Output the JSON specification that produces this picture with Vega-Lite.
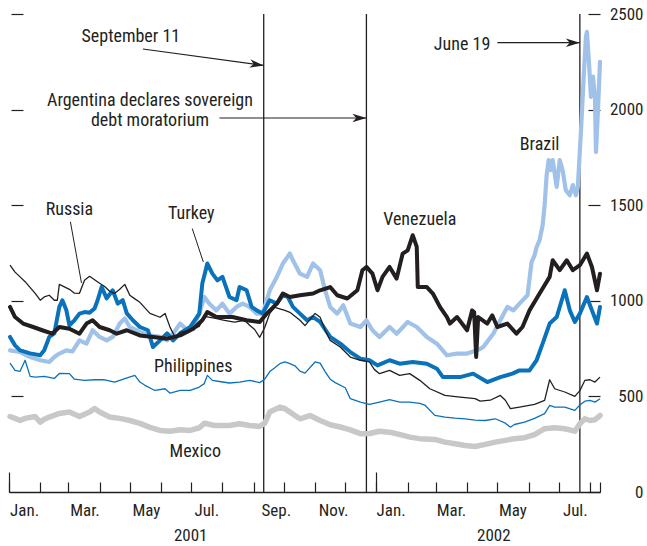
{
  "$schema": "https://vega.github.io/schema/vega-lite/v6.json",
  "width": 591,
  "height": 478,
  "autosize": {"type": "none"},
  "padding": {"left": 9, "top": 14, "right": 47, "bottom": 54},
  "background": "white",
  "config": {
    "view": {"stroke": null},
    "axis": {"labelFont": "Roboto Condensed, DejaVu Sans Condensed, Liberation Sans Narrow, Liberation Sans, sans-serif", "labelFontSize": 17, "labelColor": "#231f20", "tickColor": "#231f20", "domainColor": "#231f20", "grid": false, "title": null, "labelOverlap": false, "labelFlush": false, "labelBound": false}
  },
  "datasets": {
    "events": [{"d": "2001-09-11"}, {"d": "2001-12-22"}, {"d": "2002-07-22"}],
    "spreads": [
      {"c":"Mexico","d":"2001-01-02","v":395},{"c":"Mexico","d":"2001-01-07","v":385},{"c":"Mexico","d":"2001-01-12","v":374},{"c":"Mexico","d":"2001-01-17","v":385},{"c":"Mexico","d":"2001-01-27","v":395},{"c":"Mexico","d":"2001-02-01","v":365},{"c":"Mexico","d":"2001-02-05","v":380},{"c":"Mexico","d":"2001-02-10","v":392},{"c":"Mexico","d":"2001-02-20","v":411},{"c":"Mexico","d":"2001-03-02","v":418},{"c":"Mexico","d":"2001-03-12","v":395},{"c":"Mexico","d":"2001-03-22","v":418},{"c":"Mexico","d":"2001-03-27","v":437},{"c":"Mexico","d":"2001-04-01","v":418},{"c":"Mexico","d":"2001-04-11","v":392},{"c":"Mexico","d":"2001-04-21","v":385},{"c":"Mexico","d":"2001-05-01","v":374},{"c":"Mexico","d":"2001-05-11","v":359},{"c":"Mexico","d":"2001-05-21","v":338},{"c":"Mexico","d":"2001-05-31","v":322},{"c":"Mexico","d":"2001-06-10","v":318},{"c":"Mexico","d":"2001-06-20","v":326},{"c":"Mexico","d":"2001-06-30","v":322},{"c":"Mexico","d":"2001-07-09","v":336},{"c":"Mexico","d":"2001-07-14","v":360},{"c":"Mexico","d":"2001-07-24","v":348},{"c":"Mexico","d":"2001-08-08","v":348},{"c":"Mexico","d":"2001-08-18","v":357},{"c":"Mexico","d":"2001-08-28","v":348},{"c":"Mexico","d":"2001-09-07","v":343},{"c":"Mexico","d":"2001-09-12","v":360},{"c":"Mexico","d":"2001-09-17","v":418},{"c":"Mexico","d":"2001-09-27","v":444},{"c":"Mexico","d":"2001-10-02","v":436},{"c":"Mexico","d":"2001-10-12","v":400},{"c":"Mexico","d":"2001-10-17","v":383},{"c":"Mexico","d":"2001-10-27","v":400},{"c":"Mexico","d":"2001-11-06","v":374},{"c":"Mexico","d":"2001-11-16","v":352},{"c":"Mexico","d":"2001-11-26","v":340},{"c":"Mexico","d":"2001-12-06","v":325},{"c":"Mexico","d":"2001-12-16","v":305},{"c":"Mexico","d":"2001-12-25","v":306},{"c":"Mexico","d":"2002-01-04","v":318},{"c":"Mexico","d":"2002-01-14","v":313},{"c":"Mexico","d":"2002-01-24","v":301},{"c":"Mexico","d":"2002-02-03","v":287},{"c":"Mexico","d":"2002-02-13","v":279},{"c":"Mexico","d":"2002-02-28","v":275},{"c":"Mexico","d":"2002-03-10","v":261},{"c":"Mexico","d":"2002-03-20","v":252},{"c":"Mexico","d":"2002-03-30","v":243},{"c":"Mexico","d":"2002-04-09","v":238},{"c":"Mexico","d":"2002-04-19","v":249},{"c":"Mexico","d":"2002-04-29","v":261},{"c":"Mexico","d":"2002-05-09","v":270},{"c":"Mexico","d":"2002-05-18","v":279},{"c":"Mexico","d":"2002-05-28","v":284},{"c":"Mexico","d":"2002-06-07","v":300},{"c":"Mexico","d":"2002-06-17","v":331},{"c":"Mexico","d":"2002-06-27","v":336},{"c":"Mexico","d":"2002-07-07","v":331},{"c":"Mexico","d":"2002-07-17","v":318},{"c":"Mexico","d":"2002-07-22","v":357},{"c":"Mexico","d":"2002-07-27","v":383},{"c":"Mexico","d":"2002-08-01","v":374},{"c":"Mexico","d":"2002-08-06","v":378},{"c":"Mexico","d":"2002-08-11","v":400},
      {"c":"Philippines","d":"2001-01-02","v":674},{"c":"Philippines","d":"2001-01-07","v":636},{"c":"Philippines","d":"2001-01-12","v":631},{"c":"Philippines","d":"2001-01-17","v":689},{"c":"Philippines","d":"2001-01-22","v":605},{"c":"Philippines","d":"2001-01-27","v":601},{"c":"Philippines","d":"2001-02-05","v":605},{"c":"Philippines","d":"2001-02-15","v":594},{"c":"Philippines","d":"2001-02-20","v":620},{"c":"Philippines","d":"2001-03-02","v":619},{"c":"Philippines","d":"2001-03-07","v":590},{"c":"Philippines","d":"2001-03-17","v":584},{"c":"Philippines","d":"2001-03-27","v":587},{"c":"Philippines","d":"2001-04-06","v":587},{"c":"Philippines","d":"2001-04-16","v":575},{"c":"Philippines","d":"2001-04-26","v":593},{"c":"Philippines","d":"2001-05-06","v":610},{"c":"Philippines","d":"2001-05-11","v":575},{"c":"Philippines","d":"2001-05-16","v":558},{"c":"Philippines","d":"2001-05-26","v":531},{"c":"Philippines","d":"2001-06-05","v":540},{"c":"Philippines","d":"2001-06-10","v":517},{"c":"Philippines","d":"2001-06-20","v":531},{"c":"Philippines","d":"2001-06-30","v":531},{"c":"Philippines","d":"2001-07-09","v":549},{"c":"Philippines","d":"2001-07-14","v":567},{"c":"Philippines","d":"2001-07-17","v":610},{"c":"Philippines","d":"2001-07-22","v":584},{"c":"Philippines","d":"2001-07-29","v":578},{"c":"Philippines","d":"2001-08-08","v":570},{"c":"Philippines","d":"2001-08-18","v":575},{"c":"Philippines","d":"2001-08-28","v":584},{"c":"Philippines","d":"2001-09-07","v":572},{"c":"Philippines","d":"2001-09-12","v":590},{"c":"Philippines","d":"2001-09-17","v":630},{"c":"Philippines","d":"2001-09-22","v":650},{"c":"Philippines","d":"2001-09-27","v":671},{"c":"Philippines","d":"2001-10-02","v":680},{"c":"Philippines","d":"2001-10-07","v":671},{"c":"Philippines","d":"2001-10-12","v":660},{"c":"Philippines","d":"2001-10-17","v":632},{"c":"Philippines","d":"2001-10-22","v":622},{"c":"Philippines","d":"2001-11-01","v":680},{"c":"Philippines","d":"2001-11-06","v":674},{"c":"Philippines","d":"2001-11-11","v":630},{"c":"Philippines","d":"2001-11-16","v":590},{"c":"Philippines","d":"2001-11-21","v":572},{"c":"Philippines","d":"2001-12-01","v":545},{"c":"Philippines","d":"2001-12-06","v":488},{"c":"Philippines","d":"2001-12-16","v":470},{"c":"Philippines","d":"2001-12-25","v":458},{"c":"Philippines","d":"2002-01-04","v":470},{"c":"Philippines","d":"2002-01-14","v":483},{"c":"Philippines","d":"2002-01-24","v":470},{"c":"Philippines","d":"2002-02-03","v":470},{"c":"Philippines","d":"2002-02-13","v":463},{"c":"Philippines","d":"2002-02-18","v":455},{"c":"Philippines","d":"2002-02-28","v":401},{"c":"Philippines","d":"2002-03-10","v":392},{"c":"Philippines","d":"2002-03-20","v":386},{"c":"Philippines","d":"2002-03-30","v":382},{"c":"Philippines","d":"2002-04-09","v":376},{"c":"Philippines","d":"2002-04-19","v":374},{"c":"Philippines","d":"2002-04-29","v":383},{"c":"Philippines","d":"2002-05-09","v":360},{"c":"Philippines","d":"2002-05-14","v":339},{"c":"Philippines","d":"2002-05-18","v":353},{"c":"Philippines","d":"2002-05-28","v":365},{"c":"Philippines","d":"2002-06-07","v":385},{"c":"Philippines","d":"2002-06-17","v":410},{"c":"Philippines","d":"2002-06-22","v":453},{"c":"Philippines","d":"2002-06-27","v":444},{"c":"Philippines","d":"2002-07-07","v":444},{"c":"Philippines","d":"2002-07-17","v":427},{"c":"Philippines","d":"2002-07-22","v":455},{"c":"Philippines","d":"2002-07-27","v":475},{"c":"Philippines","d":"2002-08-01","v":479},{"c":"Philippines","d":"2002-08-06","v":470},{"c":"Philippines","d":"2002-08-11","v":488},
      {"c":"Russia","d":"2001-01-02","v":1186},{"c":"Russia","d":"2001-01-07","v":1150},{"c":"Russia","d":"2001-01-12","v":1125},{"c":"Russia","d":"2001-01-17","v":1100},{"c":"Russia","d":"2001-01-27","v":1039},{"c":"Russia","d":"2001-02-01","v":1003},{"c":"Russia","d":"2001-02-05","v":1020},{"c":"Russia","d":"2001-02-10","v":1029},{"c":"Russia","d":"2001-02-15","v":1003},{"c":"Russia","d":"2001-02-18","v":1003},{"c":"Russia","d":"2001-02-20","v":1086},{"c":"Russia","d":"2001-03-02","v":1060},{"c":"Russia","d":"2001-03-07","v":1040},{"c":"Russia","d":"2001-03-12","v":1039},{"c":"Russia","d":"2001-03-17","v":1107},{"c":"Russia","d":"2001-03-22","v":1128},{"c":"Russia","d":"2001-04-01","v":1092},{"c":"Russia","d":"2001-04-06","v":1075},{"c":"Russia","d":"2001-04-11","v":1050},{"c":"Russia","d":"2001-04-16","v":1039},{"c":"Russia","d":"2001-04-21","v":1060},{"c":"Russia","d":"2001-04-26","v":1086},{"c":"Russia","d":"2001-05-01","v":1029},{"c":"Russia","d":"2001-05-06","v":1010},{"c":"Russia","d":"2001-05-11","v":992},{"c":"Russia","d":"2001-05-21","v":934},{"c":"Russia","d":"2001-05-31","v":914},{"c":"Russia","d":"2001-06-05","v":934},{"c":"Russia","d":"2001-06-10","v":861},{"c":"Russia","d":"2001-06-15","v":809},{"c":"Russia","d":"2001-06-20","v":835},{"c":"Russia","d":"2001-06-30","v":846},{"c":"Russia","d":"2001-07-09","v":866},{"c":"Russia","d":"2001-07-14","v":919},{"c":"Russia","d":"2001-07-24","v":909},{"c":"Russia","d":"2001-08-03","v":898},{"c":"Russia","d":"2001-08-13","v":888},{"c":"Russia","d":"2001-08-23","v":898},{"c":"Russia","d":"2001-08-28","v":872},{"c":"Russia","d":"2001-09-02","v":850},{"c":"Russia","d":"2001-09-07","v":809},{"c":"Russia","d":"2001-09-12","v":860},{"c":"Russia","d":"2001-09-17","v":934},{"c":"Russia","d":"2001-09-22","v":966},{"c":"Russia","d":"2001-10-02","v":950},{"c":"Russia","d":"2001-10-07","v":940},{"c":"Russia","d":"2001-10-17","v":898},{"c":"Russia","d":"2001-10-22","v":870},{"c":"Russia","d":"2001-11-01","v":934},{"c":"Russia","d":"2001-11-06","v":914},{"c":"Russia","d":"2001-11-11","v":846},{"c":"Russia","d":"2001-11-16","v":793},{"c":"Russia","d":"2001-11-26","v":758},{"c":"Russia","d":"2001-12-06","v":706},{"c":"Russia","d":"2001-12-16","v":689},{"c":"Russia","d":"2001-12-25","v":680},{"c":"Russia","d":"2001-12-30","v":640},{"c":"Russia","d":"2002-01-04","v":619},{"c":"Russia","d":"2002-01-14","v":636},{"c":"Russia","d":"2002-01-24","v":610},{"c":"Russia","d":"2002-02-03","v":619},{"c":"Russia","d":"2002-02-13","v":584},{"c":"Russia","d":"2002-02-23","v":540},{"c":"Russia","d":"2002-03-10","v":505},{"c":"Russia","d":"2002-03-25","v":496},{"c":"Russia","d":"2002-04-09","v":488},{"c":"Russia","d":"2002-04-14","v":475},{"c":"Russia","d":"2002-04-24","v":480},{"c":"Russia","d":"2002-05-04","v":505},{"c":"Russia","d":"2002-05-09","v":480},{"c":"Russia","d":"2002-05-14","v":436},{"c":"Russia","d":"2002-05-23","v":444},{"c":"Russia","d":"2002-06-07","v":458},{"c":"Russia","d":"2002-06-17","v":479},{"c":"Russia","d":"2002-06-22","v":587},{"c":"Russia","d":"2002-06-27","v":540},{"c":"Russia","d":"2002-07-07","v":523},{"c":"Russia","d":"2002-07-17","v":500},{"c":"Russia","d":"2002-07-22","v":530},{"c":"Russia","d":"2002-07-27","v":584},{"c":"Russia","d":"2002-08-01","v":587},{"c":"Russia","d":"2002-08-06","v":575},{"c":"Russia","d":"2002-08-11","v":601},
      {"c":"Brazil","d":"2001-01-02","v":741},{"c":"Brazil","d":"2001-01-12","v":732},{"c":"Brazil","d":"2001-01-22","v":706},{"c":"Brazil","d":"2001-02-01","v":689},{"c":"Brazil","d":"2001-02-10","v":680},{"c":"Brazil","d":"2001-02-15","v":706},{"c":"Brazil","d":"2001-02-20","v":724},{"c":"Brazil","d":"2001-02-27","v":741},{"c":"Brazil","d":"2001-03-05","v":735},{"c":"Brazil","d":"2001-03-12","v":793},{"c":"Brazil","d":"2001-03-19","v":776},{"c":"Brazil","d":"2001-03-25","v":846},{"c":"Brazil","d":"2001-04-01","v":811},{"c":"Brazil","d":"2001-04-08","v":793},{"c":"Brazil","d":"2001-04-14","v":811},{"c":"Brazil","d":"2001-04-21","v":881},{"c":"Brazil","d":"2001-04-26","v":907},{"c":"Brazil","d":"2001-05-01","v":863},{"c":"Brazil","d":"2001-05-11","v":837},{"c":"Brazil","d":"2001-05-21","v":819},{"c":"Brazil","d":"2001-05-31","v":811},{"c":"Brazil","d":"2001-06-07","v":793},{"c":"Brazil","d":"2001-06-13","v":828},{"c":"Brazil","d":"2001-06-20","v":881},{"c":"Brazil","d":"2001-06-27","v":846},{"c":"Brazil","d":"2001-07-03","v":863},{"c":"Brazil","d":"2001-07-09","v":933},{"c":"Brazil","d":"2001-07-14","v":1020},{"c":"Brazil","d":"2001-07-19","v":985},{"c":"Brazil","d":"2001-07-26","v":950},{"c":"Brazil","d":"2001-08-01","v":985},{"c":"Brazil","d":"2001-08-08","v":933},{"c":"Brazil","d":"2001-08-15","v":968},{"c":"Brazil","d":"2001-08-21","v":985},{"c":"Brazil","d":"2001-08-28","v":968},{"c":"Brazil","d":"2001-09-04","v":933},{"c":"Brazil","d":"2001-09-10","v":933},{"c":"Brazil","d":"2001-09-17","v":1055},{"c":"Brazil","d":"2001-09-24","v":1125},{"c":"Brazil","d":"2001-09-30","v":1195},{"c":"Brazil","d":"2001-10-07","v":1247},{"c":"Brazil","d":"2001-10-10","v":1212},{"c":"Brazil","d":"2001-10-17","v":1142},{"c":"Brazil","d":"2001-10-24","v":1125},{"c":"Brazil","d":"2001-10-30","v":1195},{"c":"Brazil","d":"2001-11-06","v":1160},{"c":"Brazil","d":"2001-11-11","v":1055},{"c":"Brazil","d":"2001-11-16","v":968},{"c":"Brazil","d":"2001-11-23","v":933},{"c":"Brazil","d":"2001-11-29","v":977},{"c":"Brazil","d":"2001-12-06","v":881},{"c":"Brazil","d":"2001-12-16","v":863},{"c":"Brazil","d":"2001-12-22","v":898},{"c":"Brazil","d":"2001-12-28","v":846},{"c":"Brazil","d":"2002-01-04","v":811},{"c":"Brazil","d":"2002-01-14","v":863},{"c":"Brazil","d":"2002-01-21","v":828},{"c":"Brazil","d":"2002-02-01","v":889},{"c":"Brazil","d":"2002-02-10","v":863},{"c":"Brazil","d":"2002-02-20","v":811},{"c":"Brazil","d":"2002-03-02","v":776},{"c":"Brazil","d":"2002-03-12","v":715},{"c":"Brazil","d":"2002-03-22","v":724},{"c":"Brazil","d":"2002-04-01","v":724},{"c":"Brazil","d":"2002-04-11","v":741},{"c":"Brazil","d":"2002-04-17","v":758},{"c":"Brazil","d":"2002-04-27","v":828},{"c":"Brazil","d":"2002-05-04","v":898},{"c":"Brazil","d":"2002-05-11","v":968},{"c":"Brazil","d":"2002-05-17","v":950},{"c":"Brazil","d":"2002-05-23","v":985},{"c":"Brazil","d":"2002-05-31","v":1029},{"c":"Brazil","d":"2002-06-04","v":1202},{"c":"Brazil","d":"2002-06-07","v":1238},{"c":"Brazil","d":"2002-06-09","v":1280},{"c":"Brazil","d":"2002-06-12","v":1317},{"c":"Brazil","d":"2002-06-15","v":1395},{"c":"Brazil","d":"2002-06-17","v":1500},{"c":"Brazil","d":"2002-06-19","v":1657},{"c":"Brazil","d":"2002-06-21","v":1736},{"c":"Brazil","d":"2002-06-23","v":1683},{"c":"Brazil","d":"2002-06-25","v":1736},{"c":"Brazil","d":"2002-06-29","v":1596},{"c":"Brazil","d":"2002-07-02","v":1736},{"c":"Brazil","d":"2002-07-05","v":1680},{"c":"Brazil","d":"2002-07-08","v":1579},{"c":"Brazil","d":"2002-07-12","v":1552},{"c":"Brazil","d":"2002-07-15","v":1605},{"c":"Brazil","d":"2002-07-18","v":1552},{"c":"Brazil","d":"2002-07-20","v":1596},{"c":"Brazil","d":"2002-07-23","v":1880},{"c":"Brazil","d":"2002-07-26","v":2190},{"c":"Brazil","d":"2002-07-28","v":2380},{"c":"Brazil","d":"2002-07-29","v":2407},{"c":"Brazil","d":"2002-07-31","v":2250},{"c":"Brazil","d":"2002-08-02","v":2067},{"c":"Brazil","d":"2002-08-04","v":2172},{"c":"Brazil","d":"2002-08-06","v":2067},{"c":"Brazil","d":"2002-08-07","v":1779},{"c":"Brazil","d":"2002-08-09","v":1998},{"c":"Brazil","d":"2002-08-11","v":2250},
      {"c":"Turkey","d":"2001-01-02","v":811},{"c":"Turkey","d":"2001-01-07","v":767},{"c":"Turkey","d":"2001-01-12","v":741},{"c":"Turkey","d":"2001-01-22","v":725},{"c":"Turkey","d":"2001-02-01","v":715},{"c":"Turkey","d":"2001-02-05","v":741},{"c":"Turkey","d":"2001-02-10","v":811},{"c":"Turkey","d":"2001-02-15","v":830},{"c":"Turkey","d":"2001-02-20","v":968},{"c":"Turkey","d":"2001-02-23","v":1003},{"c":"Turkey","d":"2001-02-27","v":950},{"c":"Turkey","d":"2001-03-02","v":872},{"c":"Turkey","d":"2001-03-07","v":898},{"c":"Turkey","d":"2001-03-12","v":933},{"c":"Turkey","d":"2001-03-17","v":941},{"c":"Turkey","d":"2001-03-22","v":938},{"c":"Turkey","d":"2001-03-27","v":960},{"c":"Turkey","d":"2001-03-30","v":1003},{"c":"Turkey","d":"2001-04-03","v":1072},{"c":"Turkey","d":"2001-04-08","v":1013},{"c":"Turkey","d":"2001-04-14","v":1055},{"c":"Turkey","d":"2001-04-19","v":985},{"c":"Turkey","d":"2001-04-24","v":1003},{"c":"Turkey","d":"2001-04-28","v":934},{"c":"Turkey","d":"2001-05-04","v":898},{"c":"Turkey","d":"2001-05-11","v":863},{"c":"Turkey","d":"2001-05-19","v":846},{"c":"Turkey","d":"2001-05-24","v":758},{"c":"Turkey","d":"2001-05-31","v":793},{"c":"Turkey","d":"2001-06-07","v":830},{"c":"Turkey","d":"2001-06-13","v":793},{"c":"Turkey","d":"2001-06-20","v":830},{"c":"Turkey","d":"2001-06-30","v":863},{"c":"Turkey","d":"2001-07-09","v":933},{"c":"Turkey","d":"2001-07-12","v":1090},{"c":"Turkey","d":"2001-07-17","v":1195},{"c":"Turkey","d":"2001-07-22","v":1142},{"c":"Turkey","d":"2001-07-27","v":1107},{"c":"Turkey","d":"2001-08-01","v":1125},{"c":"Turkey","d":"2001-08-08","v":1020},{"c":"Turkey","d":"2001-08-15","v":1003},{"c":"Turkey","d":"2001-08-18","v":1072},{"c":"Turkey","d":"2001-08-25","v":1055},{"c":"Turkey","d":"2001-08-30","v":968},{"c":"Turkey","d":"2001-09-04","v":950},{"c":"Turkey","d":"2001-09-10","v":934},{"c":"Turkey","d":"2001-09-17","v":1003},{"c":"Turkey","d":"2001-09-24","v":985},{"c":"Turkey","d":"2001-09-30","v":1029},{"c":"Turkey","d":"2001-10-05","v":1020},{"c":"Turkey","d":"2001-10-10","v":968},{"c":"Turkey","d":"2001-10-17","v":933},{"c":"Turkey","d":"2001-10-24","v":898},{"c":"Turkey","d":"2001-10-30","v":915},{"c":"Turkey","d":"2001-11-06","v":890},{"c":"Turkey","d":"2001-11-16","v":811},{"c":"Turkey","d":"2001-11-26","v":776},{"c":"Turkey","d":"2001-12-06","v":732},{"c":"Turkey","d":"2001-12-16","v":697},{"c":"Turkey","d":"2001-12-25","v":689},{"c":"Turkey","d":"2002-01-02","v":662},{"c":"Turkey","d":"2002-01-14","v":689},{"c":"Turkey","d":"2002-01-24","v":671},{"c":"Turkey","d":"2002-02-06","v":680},{"c":"Turkey","d":"2002-02-20","v":671},{"c":"Turkey","d":"2002-03-02","v":645},{"c":"Turkey","d":"2002-03-08","v":601},{"c":"Turkey","d":"2002-03-25","v":601},{"c":"Turkey","d":"2002-04-07","v":619},{"c":"Turkey","d":"2002-04-21","v":575},{"c":"Turkey","d":"2002-05-04","v":601},{"c":"Turkey","d":"2002-05-16","v":619},{"c":"Turkey","d":"2002-05-23","v":636},{"c":"Turkey","d":"2002-06-02","v":636},{"c":"Turkey","d":"2002-06-09","v":689},{"c":"Turkey","d":"2002-06-15","v":776},{"c":"Turkey","d":"2002-06-22","v":881},{"c":"Turkey","d":"2002-06-29","v":915},{"c":"Turkey","d":"2002-07-04","v":1003},{"c":"Turkey","d":"2002-07-07","v":1055},{"c":"Turkey","d":"2002-07-12","v":950},{"c":"Turkey","d":"2002-07-17","v":889},{"c":"Turkey","d":"2002-07-22","v":933},{"c":"Turkey","d":"2002-07-29","v":1020},{"c":"Turkey","d":"2002-08-03","v":950},{"c":"Turkey","d":"2002-08-08","v":881},{"c":"Turkey","d":"2002-08-11","v":968},
      {"c":"Venezuela","d":"2001-01-02","v":968},{"c":"Venezuela","d":"2001-01-07","v":915},{"c":"Venezuela","d":"2001-01-15","v":881},{"c":"Venezuela","d":"2001-01-25","v":863},{"c":"Venezuela","d":"2001-02-03","v":846},{"c":"Venezuela","d":"2001-02-13","v":828},{"c":"Venezuela","d":"2001-02-20","v":863},{"c":"Venezuela","d":"2001-03-02","v":854},{"c":"Venezuela","d":"2001-03-12","v":828},{"c":"Venezuela","d":"2001-03-19","v":881},{"c":"Venezuela","d":"2001-03-25","v":898},{"c":"Venezuela","d":"2001-04-01","v":863},{"c":"Venezuela","d":"2001-04-11","v":846},{"c":"Venezuela","d":"2001-04-18","v":828},{"c":"Venezuela","d":"2001-04-28","v":846},{"c":"Venezuela","d":"2001-05-11","v":819},{"c":"Venezuela","d":"2001-05-24","v":811},{"c":"Venezuela","d":"2001-06-07","v":802},{"c":"Venezuela","d":"2001-06-20","v":819},{"c":"Venezuela","d":"2001-07-03","v":854},{"c":"Venezuela","d":"2001-07-12","v":898},{"c":"Venezuela","d":"2001-07-17","v":941},{"c":"Venezuela","d":"2001-07-26","v":915},{"c":"Venezuela","d":"2001-08-11","v":915},{"c":"Venezuela","d":"2001-08-25","v":898},{"c":"Venezuela","d":"2001-09-07","v":889},{"c":"Venezuela","d":"2001-09-14","v":933},{"c":"Venezuela","d":"2001-09-24","v":985},{"c":"Venezuela","d":"2001-09-30","v":1038},{"c":"Venezuela","d":"2001-10-07","v":1020},{"c":"Venezuela","d":"2001-10-17","v":1029},{"c":"Venezuela","d":"2001-10-30","v":1038},{"c":"Venezuela","d":"2001-11-06","v":1055},{"c":"Venezuela","d":"2001-11-16","v":1072},{"c":"Venezuela","d":"2001-11-23","v":1029},{"c":"Venezuela","d":"2001-12-03","v":1012},{"c":"Venezuela","d":"2001-12-13","v":1055},{"c":"Venezuela","d":"2001-12-18","v":1160},{"c":"Venezuela","d":"2001-12-22","v":1177},{"c":"Venezuela","d":"2001-12-28","v":1142},{"c":"Venezuela","d":"2002-01-02","v":1055},{"c":"Venezuela","d":"2002-01-07","v":1125},{"c":"Venezuela","d":"2002-01-14","v":1177},{"c":"Venezuela","d":"2002-01-21","v":1116},{"c":"Venezuela","d":"2002-01-27","v":1247},{"c":"Venezuela","d":"2002-02-01","v":1264},{"c":"Venezuela","d":"2002-02-06","v":1343},{"c":"Venezuela","d":"2002-02-10","v":1282},{"c":"Venezuela","d":"2002-02-11","v":1072},{"c":"Venezuela","d":"2002-02-20","v":1072},{"c":"Venezuela","d":"2002-02-26","v":1038},{"c":"Venezuela","d":"2002-03-05","v":968},{"c":"Venezuela","d":"2002-03-12","v":915},{"c":"Venezuela","d":"2002-03-15","v":881},{"c":"Venezuela","d":"2002-03-22","v":915},{"c":"Venezuela","d":"2002-04-01","v":846},{"c":"Venezuela","d":"2002-04-06","v":950},{"c":"Venezuela","d":"2002-04-08","v":940},{"c":"Venezuela","d":"2002-04-10","v":706},{"c":"Venezuela","d":"2002-04-12","v":915},{"c":"Venezuela","d":"2002-04-21","v":881},{"c":"Venezuela","d":"2002-04-26","v":924},{"c":"Venezuela","d":"2002-05-01","v":863},{"c":"Venezuela","d":"2002-05-11","v":881},{"c":"Venezuela","d":"2002-05-20","v":828},{"c":"Venezuela","d":"2002-05-26","v":863},{"c":"Venezuela","d":"2002-06-02","v":950},{"c":"Venezuela","d":"2002-06-12","v":1038},{"c":"Venezuela","d":"2002-06-22","v":1125},{"c":"Venezuela","d":"2002-06-25","v":1212},{"c":"Venezuela","d":"2002-07-02","v":1160},{"c":"Venezuela","d":"2002-07-09","v":1212},{"c":"Venezuela","d":"2002-07-15","v":1160},{"c":"Venezuela","d":"2002-07-22","v":1186},{"c":"Venezuela","d":"2002-07-29","v":1247},{"c":"Venezuela","d":"2002-08-03","v":1177},{"c":"Venezuela","d":"2002-08-08","v":1055},{"c":"Venezuela","d":"2002-08-11","v":1142}
    ],
    "notes": [
      {"d": "2001-05-02", "v": 2355, "t": "September 11"},
      {"d": "2001-05-21", "v": 2021, "t": "Argentina declares sovereign"},
      {"d": "2001-05-21", "v": 1914, "t": "debt moratorium"},
      {"d": "2002-03-27", "v": 2312, "t": "June 19"},
      {"d": "2002-06-12", "v": 1789, "t": "Brazil"},
      {"d": "2002-02-13", "v": 1396, "t": "Venezuela"},
      {"d": "2001-03-02", "v": 1449, "t": "Russia"},
      {"d": "2001-07-01", "v": 1426, "t": "Turkey"},
      {"d": "2001-07-03", "v": 629, "t": "Philippines"},
      {"d": "2001-07-05", "v": 185, "t": "Mexico"}
    ],
    "leaders": [
      {"k": "Russia", "d": "2001-03-03", "v": 1413, "d2": "2001-03-14", "v2": 1093},
      {"k": "Turkey", "d": "2001-07-02", "v": 1378, "d2": "2001-07-13", "v2": 1203}
    ],
    "arrows": [
      {"k": "Sep", "d": "2001-05-14", "v": 2317, "d2": "2001-09-11", "v2": 2231},
      {"k": "Arg", "d": "2001-07-29", "v": 1956, "d2": "2001-12-22", "v2": 1956},
      {"k": "Jun", "d": "2002-05-01", "v": 2350, "d2": "2002-07-22", "v2": 2350}
    ]
  },
  "resolve": {"axis": {"x": "independent", "y": "independent"}},
  "layer": [
    {
      "data": {"name": "events"},
      "mark": {"type": "rule", "color": "#231f20", "strokeWidth": 1.3},
      "encoding": {
        "x": {"field": "d", "type": "temporal", "scale": {"domain": [{"year": 2001, "month": 1, "date": 1, "utc": true}, {"year": 2002, "month": 8, "date": 11, "utc": true}], "nice": false},
          "axis": {"orient": "bottom", "labels": false, "domain": true, "domainWidth": 1.3, "ticks": true, "tickSize": -10, "tickWidth": 1.2,
            "values": [
              {"year": 2001, "month": 1, "date": 1, "utc": true}, {"year": 2001, "month": 2, "date": 1, "utc": true}, {"year": 2001, "month": 3, "date": 1, "utc": true}, {"year": 2001, "month": 4, "date": 1, "utc": true}, {"year": 2001, "month": 5, "date": 1, "utc": true}, {"year": 2001, "month": 6, "date": 1, "utc": true}, {"year": 2001, "month": 7, "date": 1, "utc": true}, {"year": 2001, "month": 8, "date": 1, "utc": true}, {"year": 2001, "month": 9, "date": 1, "utc": true}, {"year": 2001, "month": 10, "date": 1, "utc": true}, {"year": 2001, "month": 11, "date": 1, "utc": true}, {"year": 2001, "month": 12, "date": 1, "utc": true},
              {"year": 2002, "month": 1, "date": 1, "utc": true}, {"year": 2002, "month": 2, "date": 1, "utc": true}, {"year": 2002, "month": 3, "date": 1, "utc": true}, {"year": 2002, "month": 4, "date": 1, "utc": true}, {"year": 2002, "month": 5, "date": 1, "utc": true}, {"year": 2002, "month": 6, "date": 1, "utc": true}, {"year": 2002, "month": 7, "date": 1, "utc": true}, {"year": 2002, "month": 8, "date": 1, "utc": true}, {"year": 2002, "month": 8, "date": 11, "utc": true}
            ]}},
        "y": {"datum": 0, "type": "quantitative", "scale": {"domain": [0, 2500], "nice": false},
          "axis": {"orient": "right", "values": [0, 500, 1000, 1500, 2000, 2500], "format": "d", "offset": -12, "tickSize": 12, "tickWidth": 1.2, "domain": false, "labelAlign": "right", "labelPadding": 43}},
        "y2": {"datum": 2500}
      }
    },
    {
      "data": {"name": "spreads"},
      "transform": [{"filter": "datum.c == 'Mexico'"}],
      "mark": {"type": "line", "color": "#c8c8c8", "strokeWidth": 5.5, "strokeJoin": "round", "strokeCap": "round"},
      "encoding": {
        "x": {"field": "d", "type": "temporal", "scale": {"domain": [{"year": 2001, "month": 1, "date": 1, "utc": true}, {"year": 2002, "month": 8, "date": 11, "utc": true}], "nice": false},
          "axis": {"orient": "bottom", "labels": false, "domain": false, "ticks": true, "tickSize": -20, "tickWidth": 1.2,
            "values": [{"year": 2001, "month": 1, "date": 1, "utc": true}, {"year": 2002, "month": 1, "date": 1, "utc": true}]}},
        "y": {"field": "v", "type": "quantitative", "scale": {"domain": [0, 2500], "nice": false},
          "axis": {"orient": "left", "values": [500, 1000, 1500, 2000, 2500], "offset": -14, "tickSize": 12, "tickWidth": 1.2, "domain": false, "labels": false}}
      }
    },
    {
      "data": {"name": "spreads"},
      "transform": [{"filter": "datum.c == 'Philippines'"}],
      "mark": {"type": "line", "color": "#0a72ba", "strokeWidth": 1.3, "strokeJoin": "round"},
      "encoding": {
        "x": {"field": "d", "type": "temporal", "scale": {"domain": [{"year": 2001, "month": 1, "date": 1, "utc": true}, {"year": 2002, "month": 8, "date": 11, "utc": true}], "nice": false},
          "axis": {"orient": "bottom", "domain": false, "ticks": false, "labelPadding": 10, "labelAlign": "center",
            "labelExpr": "utcFormat(datum.value, '%b') == 'May' ? 'May' : utcFormat(datum.value, '%b') + '.'",
            "values": [{"year": 2001, "month": 1, "date": 16, "utc": true}, {"year": 2001, "month": 3, "date": 17, "utc": true}, {"year": 2001, "month": 5, "date": 17, "utc": true}, {"year": 2001, "month": 7, "date": 16, "utc": true}, {"year": 2001, "month": 9, "date": 23, "utc": true}, {"year": 2001, "month": 11, "date": 19, "utc": true}, {"year": 2002, "month": 1, "date": 15, "utc": true}, {"year": 2002, "month": 3, "date": 16, "utc": true}, {"year": 2002, "month": 5, "date": 16, "utc": true}, {"year": 2002, "month": 7, "date": 17, "utc": true}]}},
        "y": {"field": "v", "type": "quantitative", "scale": {"domain": [0, 2500], "nice": false}, "axis": null}
      }
    },
    {
      "data": {"name": "spreads"},
      "transform": [{"filter": "datum.c == 'Brazil'"}],
      "mark": {"type": "line", "color": "#a0c1e8", "strokeWidth": 4.2, "strokeJoin": "round", "strokeCap": "round"},
      "encoding": {
        "x": {"field": "d", "type": "temporal", "scale": {"domain": [{"year": 2001, "month": 1, "date": 1, "utc": true}, {"year": 2002, "month": 8, "date": 11, "utc": true}], "nice": false},
          "axis": {"orient": "bottom", "domain": false, "ticks": false, "labelPadding": 35, "labelAlign": "center",
            "labelExpr": "utcFormat(datum.value, '%Y')",
            "values": [{"year": 2001, "month": 6, "date": 30, "utc": true}, {"year": 2002, "month": 4, "date": 27, "utc": true}]}},
        "y": {"field": "v", "type": "quantitative", "scale": {"domain": [0, 2500], "nice": false}, "axis": null}
      }
    },
    {
      "data": {"name": "spreads"},
      "transform": [{"filter": "datum.c == 'Turkey'"}],
      "mark": {"type": "line", "color": "#0a72ba", "strokeWidth": 4, "strokeJoin": "round", "strokeCap": "round"},
      "encoding": {
        "x": {"field": "d", "type": "temporal", "scale": {"domain": [{"year": 2001, "month": 1, "date": 1, "utc": true}, {"year": 2002, "month": 8, "date": 11, "utc": true}], "nice": false}, "axis": null},
        "y": {"field": "v", "type": "quantitative", "scale": {"domain": [0, 2500], "nice": false}, "axis": null}
      }
    },
    {
      "data": {"name": "spreads"},
      "transform": [{"filter": "datum.c == 'Venezuela'"}],
      "mark": {"type": "line", "color": "#231f20", "strokeWidth": 4, "strokeJoin": "round", "strokeCap": "round"},
      "encoding": {
        "x": {"field": "d", "type": "temporal", "scale": {"domain": [{"year": 2001, "month": 1, "date": 1, "utc": true}, {"year": 2002, "month": 8, "date": 11, "utc": true}], "nice": false}, "axis": null},
        "y": {"field": "v", "type": "quantitative", "scale": {"domain": [0, 2500], "nice": false}, "axis": null}
      }
    },
    {
      "data": {"name": "spreads"},
      "transform": [{"filter": "datum.c == 'Russia'"}],
      "mark": {"type": "line", "color": "#231f20", "strokeWidth": 1.3, "strokeJoin": "round"},
      "encoding": {
        "x": {"field": "d", "type": "temporal", "scale": {"domain": [{"year": 2001, "month": 1, "date": 1, "utc": true}, {"year": 2002, "month": 8, "date": 11, "utc": true}], "nice": false}, "axis": null},
        "y": {"field": "v", "type": "quantitative", "scale": {"domain": [0, 2500], "nice": false}, "axis": null}
      }
    },
    {
      "data": {"name": "leaders"},
      "mark": {"type": "rule", "color": "#231f20", "strokeWidth": 1},
      "encoding": {
        "x": {"field": "d", "type": "temporal", "scale": {"domain": [{"year": 2001, "month": 1, "date": 1, "utc": true}, {"year": 2002, "month": 8, "date": 11, "utc": true}], "nice": false}, "axis": null},
        "x2": {"field": "d2"},
        "y": {"field": "v", "type": "quantitative", "scale": {"domain": [0, 2500], "nice": false}, "axis": null},
        "y2": {"field": "v2"}
      }
    },
    {
      "data": {"name": "arrows"},
      "mark": {"type": "rule", "color": "#231f20", "strokeWidth": 1.2},
      "encoding": {
        "x": {"field": "d", "type": "temporal", "scale": {"domain": [{"year": 2001, "month": 1, "date": 1, "utc": true}, {"year": 2002, "month": 8, "date": 11, "utc": true}], "nice": false}, "axis": null},
        "x2": {"field": "d2"},
        "y": {"field": "v", "type": "quantitative", "scale": {"domain": [0, 2500], "nice": false}, "axis": null},
        "y2": {"field": "v2"}
      }
    },
    {
      "data": {"name": "arrows"},
      "transform": [{"filter": "datum.k == 'Sep'"}],
      "mark": {"type": "point", "shape": "M0,0 L-2,-0.6 L-1.45,0 L-2,0.6 Z", "size": 196, "filled": true, "color": "#231f20", "opacity": 1, "angle": 8, "strokeWidth": 0},
      "encoding": {
        "x": {"field": "d2", "type": "temporal", "scale": {"domain": [{"year": 2001, "month": 1, "date": 1, "utc": true}, {"year": 2002, "month": 8, "date": 11, "utc": true}], "nice": false}, "axis": null},
        "y": {"field": "v2", "type": "quantitative", "scale": {"domain": [0, 2500], "nice": false}, "axis": null}
      }
    },
    {
      "data": {"name": "arrows"},
      "transform": [{"filter": "datum.k != 'Sep'"}],
      "mark": {"type": "point", "shape": "M0,0 L-2,-0.6 L-1.45,0 L-2,0.6 Z", "size": 196, "filled": true, "color": "#231f20", "opacity": 1, "strokeWidth": 0},
      "encoding": {
        "x": {"field": "d2", "type": "temporal", "scale": {"domain": [{"year": 2001, "month": 1, "date": 1, "utc": true}, {"year": 2002, "month": 8, "date": 11, "utc": true}], "nice": false}, "axis": null},
        "y": {"field": "v2", "type": "quantitative", "scale": {"domain": [0, 2500], "nice": false}, "axis": null}
      }
    },
    {
      "data": {"name": "notes"},
      "mark": {"type": "text", "font": "Roboto Condensed, DejaVu Sans Condensed, Liberation Sans Narrow, Liberation Sans, sans-serif", "fontSize": 18, "color": "#231f20", "align": "center", "baseline": "alphabetic"},
      "encoding": {
        "x": {"field": "d", "type": "temporal", "scale": {"domain": [{"year": 2001, "month": 1, "date": 1, "utc": true}, {"year": 2002, "month": 8, "date": 11, "utc": true}], "nice": false}, "axis": null},
        "y": {"field": "v", "type": "quantitative", "scale": {"domain": [0, 2500], "nice": false}, "axis": null},
        "text": {"field": "t"}
      }
    }
  ]
}
